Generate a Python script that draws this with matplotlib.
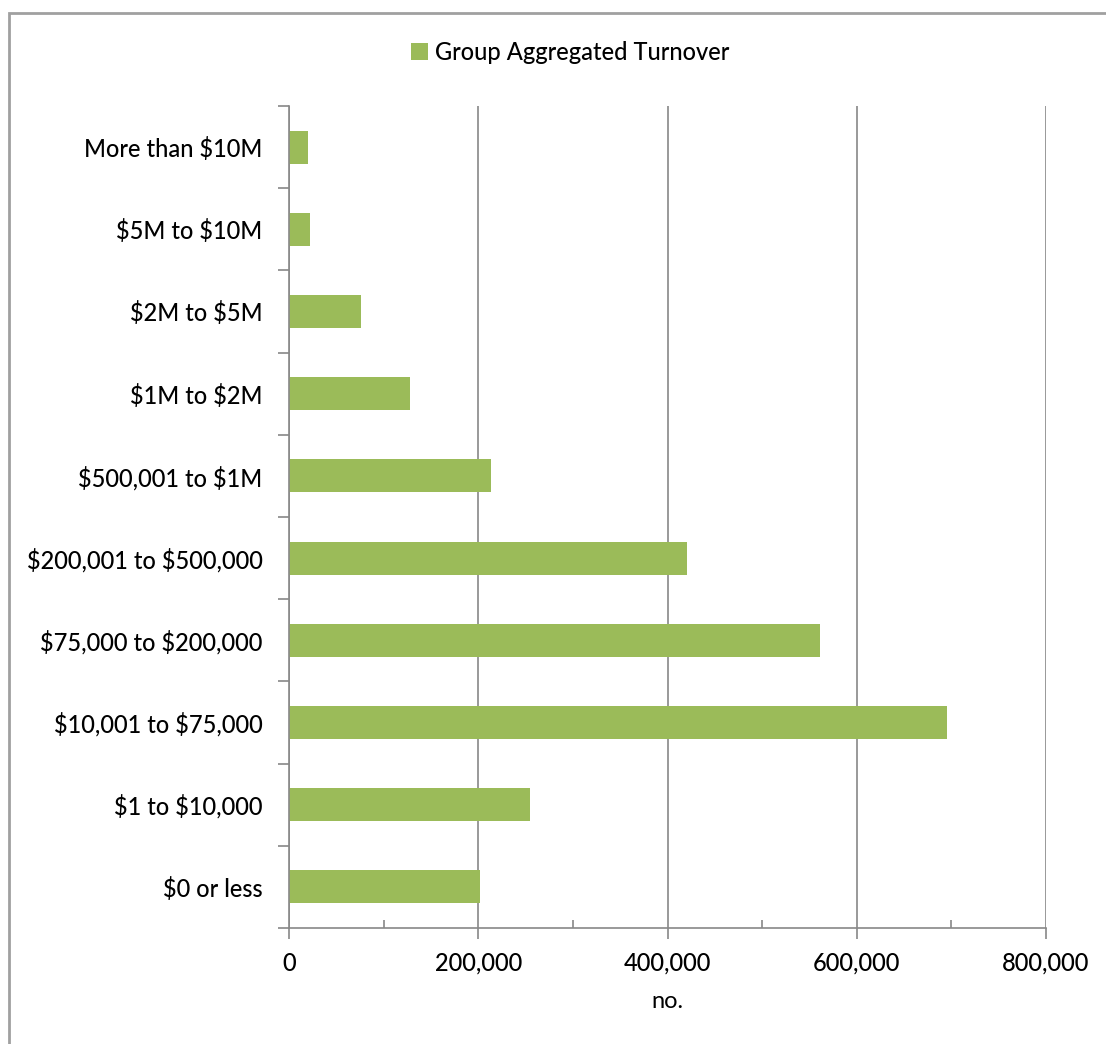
import matplotlib
matplotlib.use("Agg")
import matplotlib.pyplot as plt
from matplotlib.patches import Rectangle, Patch
from matplotlib.ticker import MultipleLocator, FuncFormatter

categories = ["$0 or less", "$1 to $10,000", "$10,001 to $75,000", "$75,000 to $200,000",
              "$200,001 to $500,000", "$500,001 to $1M", "$1M to $2M", "$2M to $5M",
              "$5M to $10M", "More than $10M"]
values = [201800, 254700, 695500, 561000, 420500, 213500, 128000, 76000, 22000, 20000]
series_name = "Group Aggregated Turnover"
xlabel = "no."

plt.rcParams['font.family'] = ['Lato', 'DejaVu Sans']
plt.rcParams['text.parse_math'] = False
plt.rcParams['font.weight'] = 'medium'
FS = 17
W, H = 1106, 1044
fig = plt.figure(figsize=(W/100, H/100), dpi=100)
ax = fig.add_axes([289/W, 1-928/H, (1046-289)/W, (928-106)/H])

green = '#9BBB59'
grey = '#888888'
ypos = list(range(len(categories)))
ax.barh(ypos, values, height=0.4, color=green, zorder=3)
ax.set_ylim(-0.5, len(categories)-0.5)
ax.set_xlim(0, 800000)

ax.set_yticks(ypos)
ax.set_yticklabels(categories, fontsize=FS)
ax.tick_params(axis='y', length=0, pad=19)
ax.set_yticks([i-0.5 for i in range(len(categories)+1)], minor=True)
ax.tick_params(axis='y', which='minor', length=8, width=1.2, color=grey, direction='out')

ax.xaxis.set_major_locator(MultipleLocator(200000))
ax.xaxis.set_minor_locator(MultipleLocator(100000))
ax.xaxis.set_major_formatter(FuncFormatter(lambda v, p: f"{int(v):,}"))
ax.tick_params(axis='x', which='major', length=8, width=1.2, color=grey, direction='out', labelsize=FS, pad=9)
ax.tick_params(axis='x', which='minor', length=6, width=1.2, color=grey, direction='in')
ax.grid(axis='x', which='major', color=grey, linewidth=1.2, zorder=0)
ax.set_axisbelow(True)

for s in ['top', 'right']:
    ax.spines[s].set_visible(False)
for s in ['left', 'bottom']:
    ax.spines[s].set_color(grey)
    ax.spines[s].set_linewidth(1.2)
    ax.spines[s].set_zorder(4)

ax.set_xlabel(xlabel, fontsize=FS, labelpad=12)

fig.legend(handles=[Patch(facecolor=green, label=series_name)], loc='center',
           bbox_to_anchor=(570/W, 1-52/H), frameon=False,
           prop={'family': ['Liberation Sans Narrow', 'Lato'], 'size': 17},
           handlelength=0.7, handleheight=0.7, handletextpad=0.3)

fig.patches.append(Rectangle((9/W, -0.1), 1.2, 1-13/H+0.1, transform=fig.transFigure,
                             fill=False, edgecolor='#A0A0A0', linewidth=2))

fig.savefig("out.png", dpi=100)
